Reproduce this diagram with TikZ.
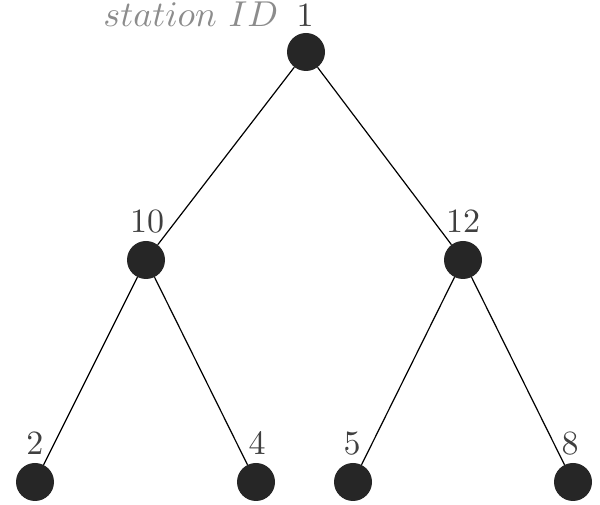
\documentclass[tikz,border=0pt]{standalone}
\definecolor{nodefill}{HTML}{262626}
\definecolor{numgray}{HTML}{404040}
\definecolor{capgray}{HTML}{8C8C8C}
\begin{document}
\begin{tikzpicture}[x=1pt,y=1pt,
  station/.style={circle, fill=nodefill, draw=none, minimum size=38pt, inner sep=0pt},
  idlbl/.style={scale=3.4, text=numgray, inner sep=0pt, anchor=base},
  caplbl/.style={scale=3.6, text=capgray, inner sep=0pt, anchor=base east},
  link/.style={draw=black, line width=1.2pt}]
\useasboundingbox (0,0) rectangle (600,505);
% stations
\node[station] (r) at (306,453) {};
\node[station] (a) at (146,245) {};
\node[station] (b) at (463,245) {};
\node[station] (a1) at (35,23) {};
\node[station] (a2) at (256,23) {};
\node[station] (b1) at (353,23) {};
\node[station] (b2) at (573,23) {};
% links
\draw[link] (r) -- (a);
\draw[link] (r) -- (b);
\draw[link] (a) -- (a1);
\draw[link] (a) -- (a2);
\draw[link] (b) -- (b1);
\draw[link] (b) -- (b2);
% labels
\node[idlbl] (lr) at (305,478) {1};
\node[caplbl] (cap) at (279,478) {$station\ ID$};
\node[idlbl] (la) at (147,272) {10};
\node[idlbl] (lb) at (463,272) {12};
\node[idlbl] (la1) at (35,50) {2};
\node[idlbl] (la2) at (257,50) {4};
\node[idlbl] (lb1) at (352,50) {5};
\node[idlbl] (lb2) at (570,50) {8};
\end{tikzpicture}
\end{document}
